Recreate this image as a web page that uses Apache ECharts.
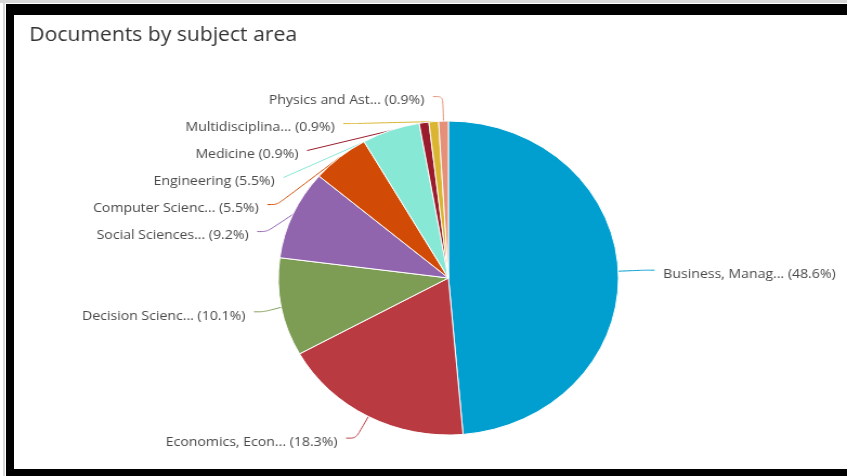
<!DOCTYPE html>
<html><head><meta charset="utf-8">
<script src="https://cdn.jsdelivr.net/npm/echarts@6/dist/echarts.min.js"></script>
<style>
html,body{margin:0;padding:0;background:#fff;overflow:hidden;width:847px;height:476px}
#chart{position:absolute;left:0;top:0;width:782px;height:476px;transform:scaleX(1.0831);transform-origin:0 0;}
.b{position:absolute;background:#000}
.g{position:absolute;background:#d8d8d8}
</style></head><body>
<div id="chart"></div>
<div class="g" style="left:0;top:0;width:847px;height:3px"></div>
<div class="g" style="left:3px;top:0;width:2px;height:476px"></div>
<div class="b" style="left:6px;top:4px;width:841px;height:11px"></div>
<div class="b" style="left:6px;top:4px;width:8px;height:472px"></div>
<div class="b" style="left:6px;top:469px;width:841px;height:7px"></div>
<script>
const title = 'Documents by subject area';
const categories = [
  'Business, Manag...',
  'Economics, Econ...',
  'Decision Scienc...',
  'Social Sciences...',
  'Computer Scienc...',
  'Engineering',
  'Medicine',
  'Multidisciplina...',
  'Physics and Ast...'
];
const documentCounts = [53, 20, 11, 10, 6, 6, 1, 1, 1];
const colors = ['#009fd0', '#b93a40', '#7d9c54', '#9164ae', '#d24b06', '#87e8d5', '#9a1b2b', '#d9b531', '#e59079'];
const total = documentCounts.reduce((a, b) => a + b, 0);

const chart = echarts.init(document.getElementById('chart'), null, {renderer: 'canvas'});
chart.setOption({
  animation: false,
  title: {
    text: title,
    left: 22, top: 20,
    textStyle: {fontFamily: 'Open Sans', fontSize: 19.5, fontWeight: 'normal', color: '#333'}
  },
  color: colors,
  series: [{
    type: 'pie',
    center: [414, 278],
    radius: 157,
    startAngle: 90,
    clockwise: true,
    avoidLabelOverlap: true,
    itemStyle: {borderColor: '#fff', borderWidth: 1},
    label: {
      show: true,
      formatter: p => p.name + ' (' + (p.value / total * 100).toFixed(1) + '%)',
      fontFamily: 'Open Sans',
      fontSize: 13,
      color: '#4a4a4a',
      lineHeight: 18,
      padding: [7, 0, 0, 0],
      offset: [0, 4],
      overflow: 'none',
      distanceToLabelLine: 8
    },
    labelLine: {show: true, length: 24.5, length2: 9, smooth: true, lineStyle: {width: 1}},
    emphasis: {disabled: true},
    data: categories.map((c, i) => ({name: c, value: documentCounts[i]}))
  }]
});
</script>
</body></html>
